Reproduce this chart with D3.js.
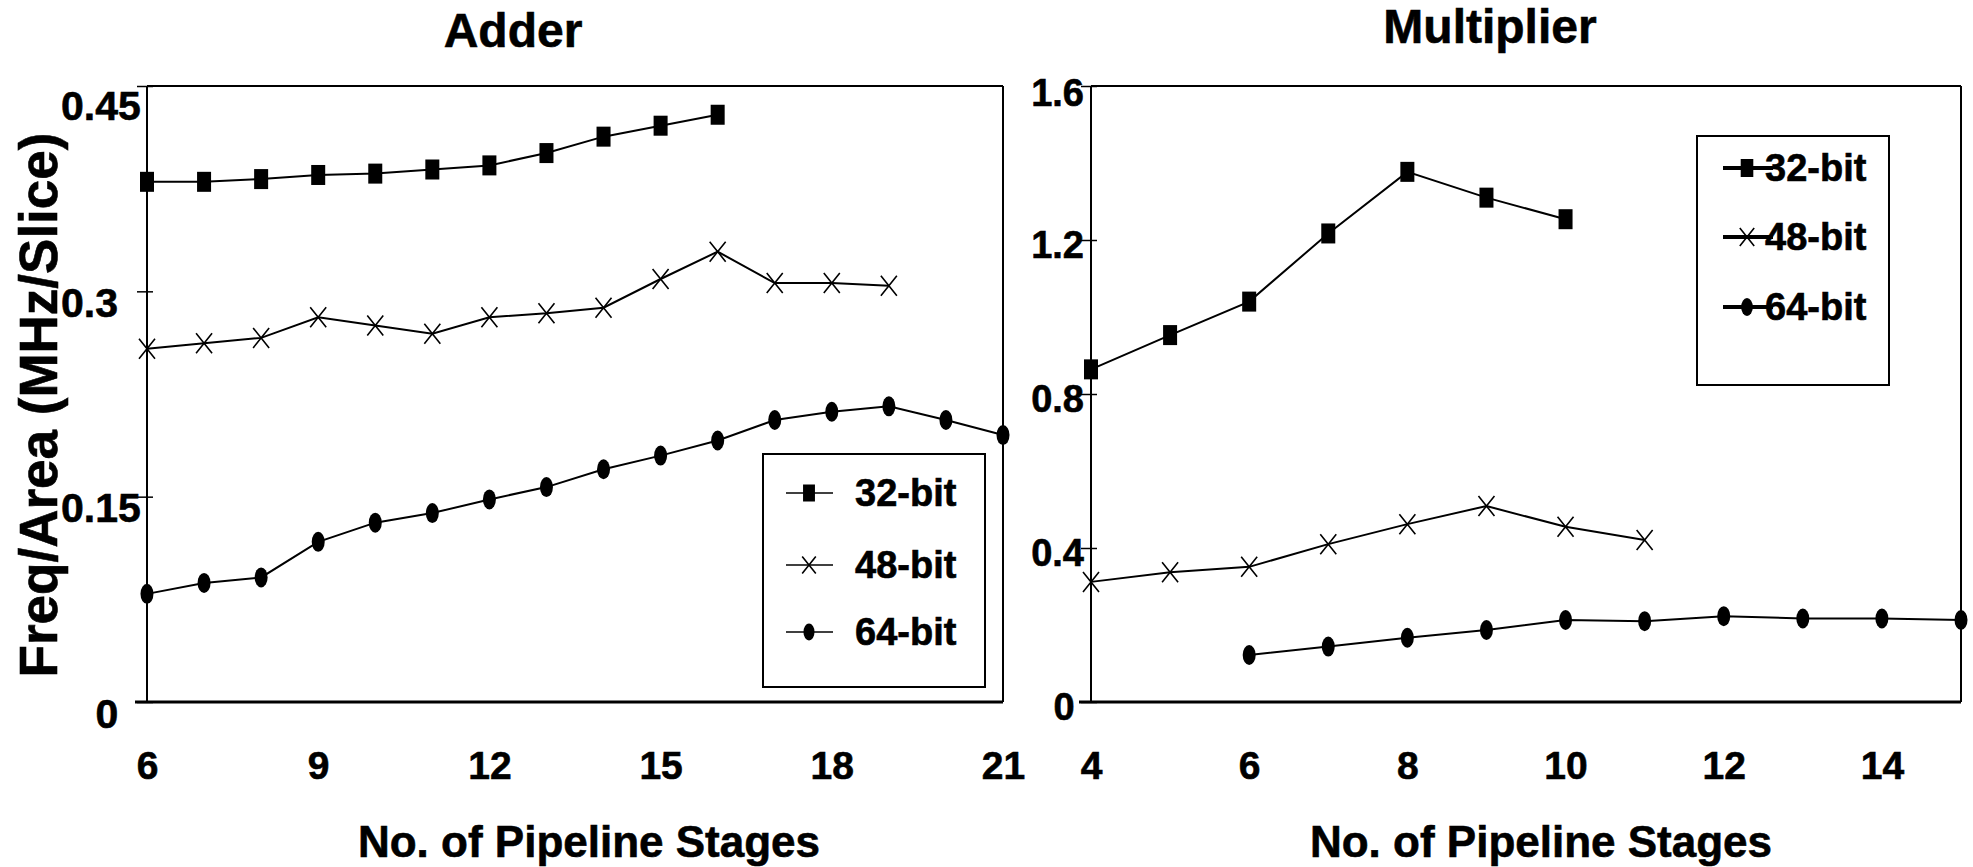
<!DOCTYPE html>
<html lang="en">
<head>
<meta charset="UTF-8">
<title>Adder / Multiplier: Freq/Area vs Pipeline Stages</title>
<script src="https://cdn.jsdelivr.net/npm/d3@7"></script>
<style>
    body { margin: 0; background: #ffffff; }
    svg text { font-family: "Liberation Sans", Arial, sans-serif; font-weight: bold; fill: #000000;
               stroke: #000000; stroke-width: 0.6px; }
</style>
</head>
<body>
<svg id="mainsvg" width="1973" height="867"></svg>
<script>

    // Data: Adder
    const adderStages32 = [6, 7, 8, 9, 10, 11, 12, 13, 14, 15, 16];
    const adder32 = [0.380, 0.380, 0.382, 0.385, 0.386, 0.389, 0.392, 0.401, 0.413, 0.421, 0.429];
    const adderStages48 = [6, 7, 8, 9, 10, 11, 12, 13, 14, 15, 16, 17, 18, 19];
    const adder48 = [0.258, 0.262, 0.266, 0.281, 0.275, 0.269, 0.281, 0.284, 0.288, 0.309, 0.329, 0.306, 0.306, 0.304];
    const adderStages64 = [6, 7, 8, 9, 10, 11, 12, 13, 14, 15, 16, 17, 18, 19, 20, 21];
    const adder64 = [0.079, 0.087, 0.091, 0.117, 0.131, 0.138, 0.148, 0.157, 0.170, 0.180, 0.191, 0.206, 0.212, 0.216, 0.206, 0.195];

    // Data: Multiplier
    const multStages32 = [4, 5, 6, 7, 8, 9, 10];
    const mult32 = [0.864, 0.953, 1.040, 1.217, 1.377, 1.310, 1.254];
    const multStages48 = [4, 5, 6, 7, 8, 9, 10, 11];
    const mult48 = [0.312, 0.337, 0.351, 0.410, 0.462, 0.509, 0.455, 0.421];
    const multStages64 = [6, 7, 8, 9, 10, 11, 12, 13, 14, 15];
    const mult64 = [0.122, 0.144, 0.167, 0.187, 0.213, 0.210, 0.223, 0.217, 0.217, 0.213];

    // Ticks / labels
    const seriesNames = ['32-bit', '48-bit', '64-bit'];
    const markerTypes = ['square', 'cross', 'ellipse'];
    const adderXTicks = [6, 9, 12, 15, 18, 21];
    const adderYTicks = [0, 0.15, 0.3, 0.45];
    const multXTicks = [4, 6, 8, 10, 12, 14];
    const multYTicks = [0, 0.4, 0.8, 1.2, 1.6];
    const xTitle = 'No. of Pipeline Stages';
    const yTitle = 'Freq/Area (MHz/Slice)';

    const zip = (xs, vs) => xs.map((x, i) => ({x: x, v: vs[i]}));

    const svg = d3.select('#mainsvg');

    const panels = [
        {
            title: 'Adder', titleX: 513, titleY: 47, xTitleX: 589,
            left: 147, right: 1003, top: 86, bottom: 702,
            xDomain: [6, 21], yDomain: [0, 0.45],
            xTicks: adderXTicks, yTicks: adderYTicks,
            yFont: 41, labelX: -86, labelAnchor: 'start', zeroX: -40, labelDy: 25, topDy: 33,
            series: [zip(adderStages32, adder32), zip(adderStages48, adder48), zip(adderStages64, adder64)],
            legend: {x: 763, y: 454, w: 222, h: 233, lineX1: 786, lineX2: 833, markX: 809, textX: 855,
                     rows: [493, 565, 632], lineW: 1.5, scale: 0.85}
        },
        {
            title: 'Multiplier', titleX: 1490, titleY: 43, xTitleX: 1541,
            left: 1091, right: 1961, top: 86, bottom: 702,
            xDomain: [4, 15], yDomain: [0, 1.6],
            xTicks: multXTicks, yTicks: multYTicks,
            yFont: 38, labelX: -7, labelAnchor: 'end', zeroX: -27, labelDy: 17, topDy: 19,
            series: [zip(multStages32, mult32), zip(multStages48, mult48), zip(multStages64, mult64)],
            legend: {x: 1697, y: 136, w: 192, h: 249, lineX1: 1723, lineX2: 1773, markX: 1747, textX: 1765,
                     rows: [168, 237, 307], lineW: 4, scale: 0.9}
        }
    ];

    function drawMarker(g, type, cx, cy, s) {
        if (type === 'square') {
            g.append('rect')
                .attr('x', cx - 7 * s).attr('y', cy - 10 * s)
                .attr('width', 14 * s).attr('height', 20 * s)
                .attr('fill', '#000');
        } else if (type === 'ellipse') {
            g.append('ellipse')
                .attr('cx', cx).attr('cy', cy)
                .attr('rx', 6.5 * s).attr('ry', 10 * s)
                .attr('fill', '#000');
        } else {
            g.append('path')
                .attr('d', `M${cx - 8 * s},${cy - 10 * s}L${cx + 8 * s},${cy + 10 * s}M${cx + 8 * s},${cy - 10 * s}L${cx - 8 * s},${cy + 10 * s}`)
                .attr('stroke', '#000').attr('stroke-width', 1.6).attr('fill', 'none');
        }
    }

    panels.forEach((p, pi) => {
        const g = svg.append('g');

        const x = d3.scaleLinear().domain(p.xDomain).range([p.left, p.right]);
        const y = d3.scaleLinear().domain(p.yDomain).range([p.bottom, p.top]);

        // Title
        g.append('text')
            .attr('x', p.titleX).attr('y', p.titleY)
            .attr('text-anchor', 'middle')
            .attr('font-size', 48)
            .text(p.title);

        // Y axis ticks + labels
        const yAxis = g.append('g')
            .attr('transform', `translate(${p.left},0)`)
            .call(d3.axisLeft(y).tickValues(p.yTicks).tickSize(10).tickFormat(d => String(d)));
        yAxis.select('.domain').remove();
        yAxis.selectAll('.tick line').attr('x1', 6).attr('stroke', '#000').attr('stroke-width', 1.5);
        yAxis.selectAll('.tick text')
            .attr('font-size', p.yFont)
            .attr('font-family', '"Liberation Sans", Arial, sans-serif')
            .attr('dy', null)
            .attr('y', d => d === p.yDomain[1] ? p.topDy : p.labelDy)
            .attr('x', d => d === 0 ? p.zeroX : p.labelX)
            .attr('text-anchor', d => d === 0 ? 'middle' : p.labelAnchor);

        // X axis labels
        const xAxis = g.append('g')
            .attr('transform', `translate(0,${p.bottom})`)
            .call(d3.axisBottom(x).tickValues(p.xTicks).tickSize(0));
        xAxis.select('.domain').remove();
        xAxis.selectAll('.tick text')
            .attr('font-size', 39)
            .attr('font-family', '"Liberation Sans", Arial, sans-serif')
            .attr('dy', null)
            .attr('y', 77);

        // Frame
        g.append('line').attr('x1', p.left).attr('x2', p.right).attr('y1', p.top).attr('y2', p.top)
            .attr('stroke', '#000').attr('stroke-width', 2);
        g.append('line').attr('x1', p.right).attr('x2', p.right).attr('y1', p.top).attr('y2', p.bottom)
            .attr('stroke', '#000').attr('stroke-width', 2);
        g.append('line').attr('x1', p.left).attr('x2', p.left).attr('y1', p.top).attr('y2', p.bottom)
            .attr('stroke', '#000').attr('stroke-width', 2);
        g.append('line').attr('x1', p.left - 12).attr('x2', p.right).attr('y1', p.bottom).attr('y2', p.bottom)
            .attr('stroke', '#000').attr('stroke-width', 3);

        // Axis titles
        g.append('text')
            .attr('x', p.xTitleX).attr('y', 857)
            .attr('text-anchor', 'middle')
            .attr('font-size', 44)
            .text(xTitle);
        if (pi === 0) {
            g.append('text')
                .attr('transform', 'translate(57,405) rotate(-90)')
                .attr('text-anchor', 'middle')
                .attr('font-size', 53)
                .text(yTitle);
        }

        // Series
        const line = d3.line().x(d => x(d.x)).y(d => y(d.v));
        p.series.forEach((s, si) => {
            g.append('path')
                .datum(s)
                .attr('d', line)
                .attr('fill', 'none')
                .attr('stroke', '#000')
                .attr('stroke-width', 2);
            const mg = g.append('g');
            s.forEach(d => drawMarker(mg, markerTypes[si], x(d.x), y(d.v), 1));
        });

        // Legend
        const L = p.legend;
        const lg = g.append('g');
        lg.append('rect')
            .attr('x', L.x).attr('y', L.y).attr('width', L.w).attr('height', L.h)
            .attr('fill', '#fff').attr('stroke', '#000').attr('stroke-width', 2);
        seriesNames.forEach((name, i) => {
            const cy = L.rows[i];
            lg.append('line')
                .attr('x1', L.lineX1).attr('x2', L.lineX2).attr('y1', cy).attr('y2', cy)
                .attr('stroke', '#000').attr('stroke-width', L.lineW);
            drawMarker(lg, markerTypes[i], L.markX, cy, L.scale);
            lg.append('text')
                .attr('x', L.textX).attr('y', cy + 13)
                .attr('font-size', 38)
                .text(name);
        });
    });

</script>
</body>
</html>
